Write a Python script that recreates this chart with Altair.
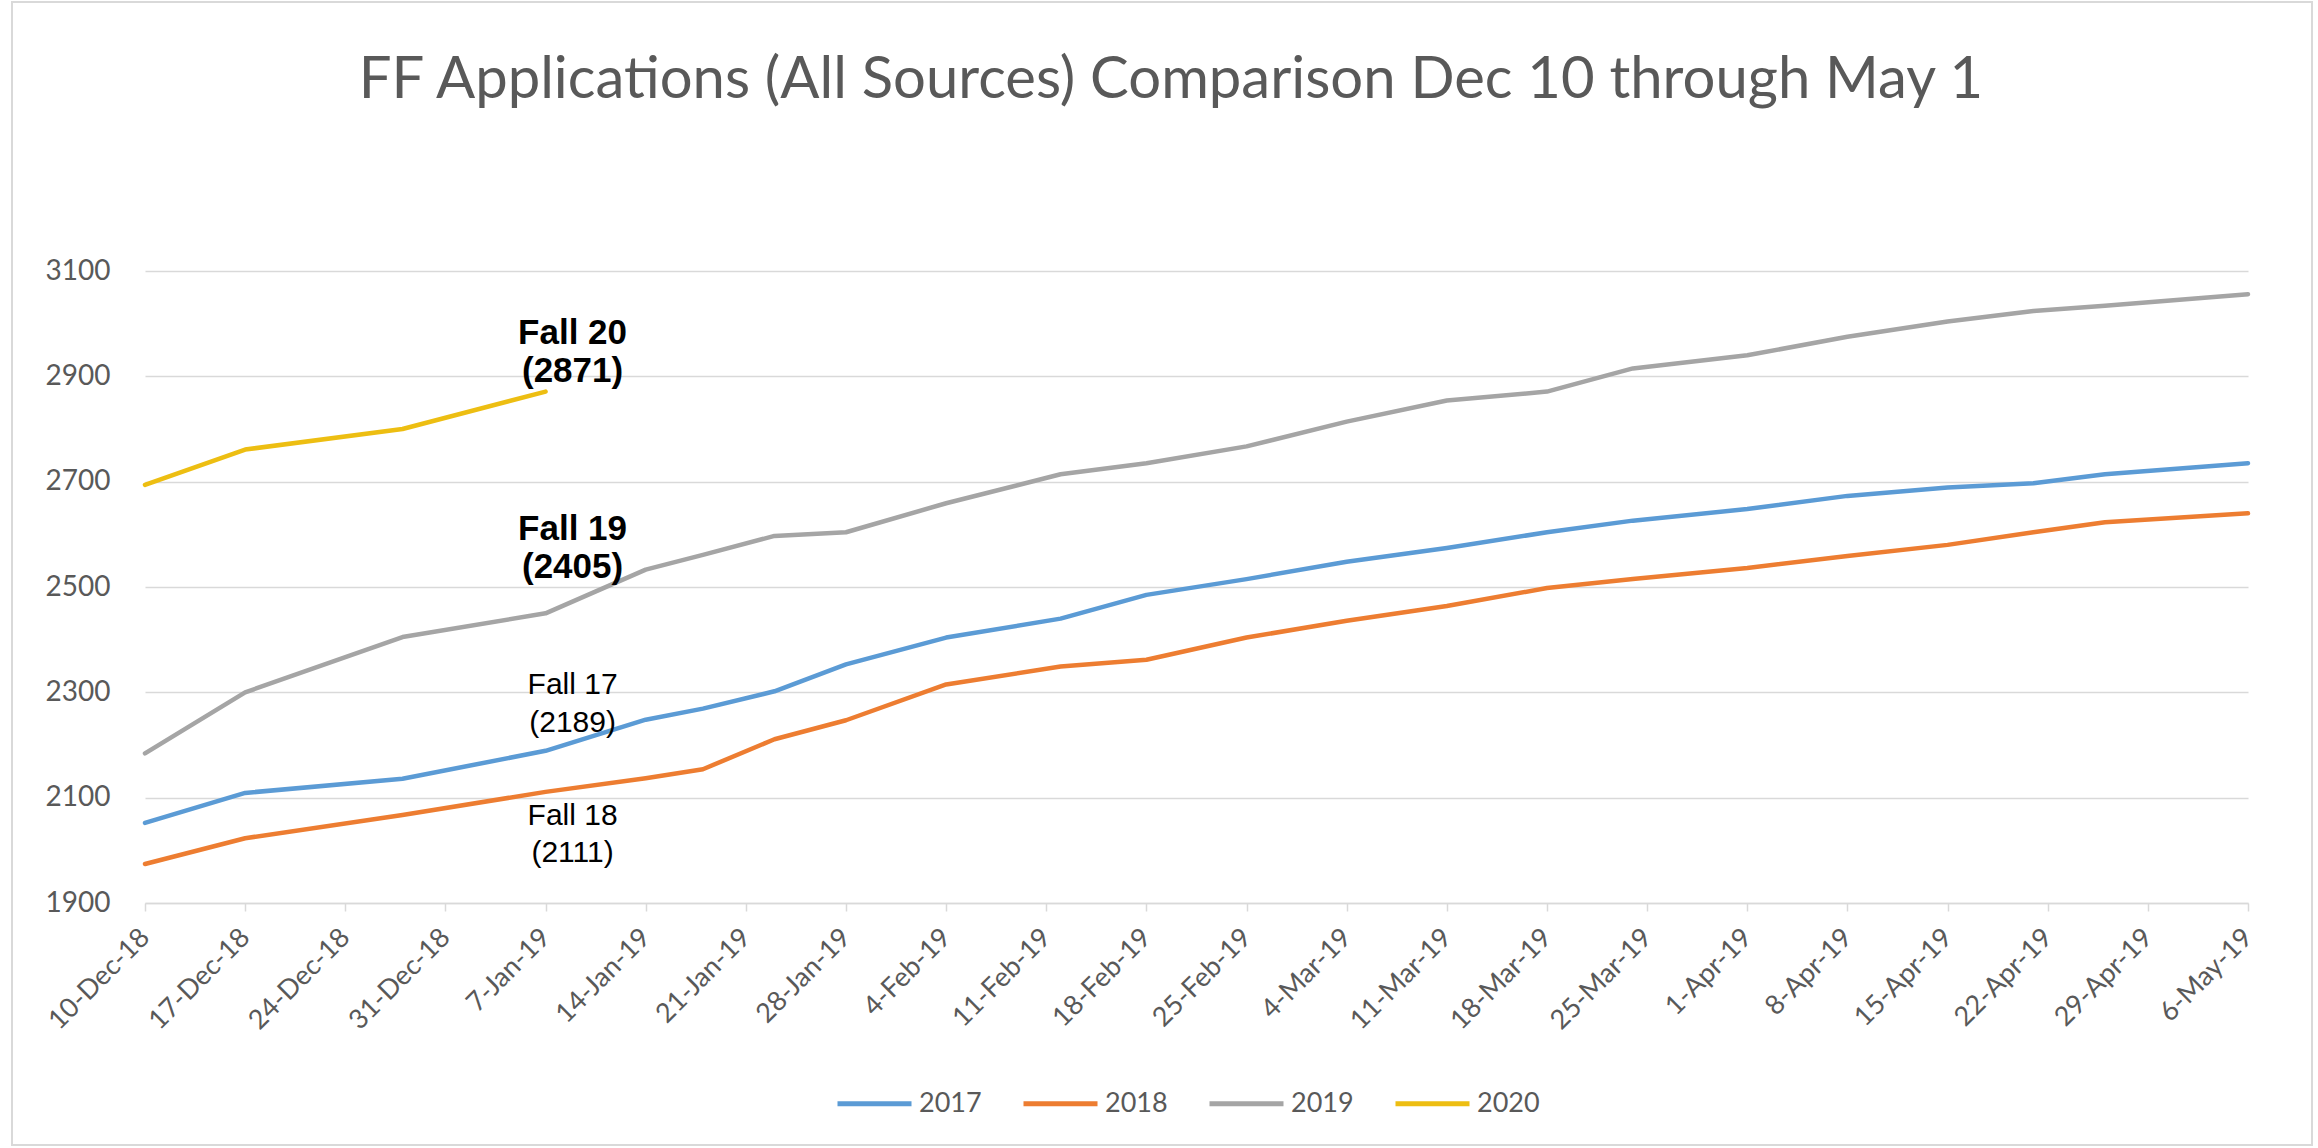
import altair as alt
import pandas as pd

# Weekly axis ticks (Monday of each week)
TICK_DATES = [
    "2018-12-10", "2018-12-17", "2018-12-24", "2018-12-31", "2019-01-07",
    "2019-01-14", "2019-01-21", "2019-01-28", "2019-02-04", "2019-02-11",
    "2019-02-18", "2019-02-25", "2019-03-04", "2019-03-11", "2019-03-18",
    "2019-03-25", "2019-04-01", "2019-04-08", "2019-04-15", "2019-04-22",
    "2019-04-29", "2019-05-06",
]

# Dates on which application counts were recorded
DATES = [
    "2018-12-10", "2018-12-17", "2018-12-28", "2019-01-07", "2019-01-14",
    "2019-01-18", "2019-01-23", "2019-01-28", "2019-02-04", "2019-02-12",
    "2019-02-18", "2019-02-25", "2019-03-04", "2019-03-11", "2019-03-18",
    "2019-03-24", "2019-04-01", "2019-04-08", "2019-04-15", "2019-04-21",
    "2019-04-26", "2019-05-06",
]

APPS_2017 = [2052, 2109, 2136, 2189, 2248, 2269, 2302, 2353, 2404, 2440, 2485,
             2515, 2548, 2574, 2604, 2626, 2648, 2673, 2689, 2697, 2714, 2735]
APPS_2018 = [1974, 2023, 2067, 2111, 2137, 2154, 2211, 2247, 2315, 2349, 2362,
             2404, 2436, 2464, 2498, 2515, 2536, 2559, 2580, 2604, 2623, 2640]
APPS_2019 = [2184, 2300, 2405, 2450, 2533, 2561, 2597, 2604, 2659, 2714, 2735,
             2767, 2814, 2854, 2871, 2915, 2940, 2975, 3004, 3024, 3034, 3056]
APPS_2020 = [2694, 2761, 2800, 2871]

SERIES = ["2017", "2018", "2019", "2020"]
COLORS = ["#5B9BD5", "#ED7D31", "#A5A5A5", "#EDBE12"]
Y_TICKS = [1900, 2100, 2300, 2500, 2700, 2900, 3100]

# Season call-outs: name and the count quoted in the label
NOTE_NAMES = ["Fall 20", "Fall 19", "Fall 17", "Fall 18"]
NOTE_COUNTS = [2871, 2405, 2189, 2111]
NOTE_BOLD = [True, True, False, False]
# where each two-line call-out sits (axis units for the two baselines)
NOTE_LINE1_AT = [2961, 2589, 2296, 2048]
NOTE_LINE2_AT = [2889, 2518, 2224, 1977]
NOTE_DATE = "2019-01-07"

TITLE = "FF Applications (All Sources) Comparison Dec 10 through May 1"

GRID = "#d9d9d9"
TEXT = "#595959"
FONT = "Lato"

rows = []
for name, vals in zip(SERIES, [APPS_2017, APPS_2018, APPS_2019, APPS_2020]):
    for d, v in zip(DATES, vals):
        rows.append({"date": d, "season": name, "apps": v})
lines_df = pd.DataFrame(rows)

note_rows = []
for name, cnt, bold, y1, y2 in zip(NOTE_NAMES, NOTE_COUNTS, NOTE_BOLD,
                                   NOTE_LINE1_AT, NOTE_LINE2_AT):
    note_rows.append({"date": NOTE_DATE, "pos": y1, "label": name, "bold": bold})
    note_rows.append({"date": NOTE_DATE, "pos": y2, "label": f"({cnt})", "bold": bold})
notes_df = pd.DataFrame(note_rows)


def dt(s):
    y, m, d = (int(p) for p in s.split("-"))
    return alt.DateTime(year=y, month=m, date=d, utc=True)


PLOT_W, PLOT_H = 2103, 632
PAD = {"left": 145, "top": 271, "right": 70, "bottom": 245}

x_scale = alt.Scale(type="utc", domain=[dt(TICK_DATES[0]), dt(TICK_DATES[-1])])
y_scale = alt.Scale(domain=[1900, 3100], nice=False, zero=False)

x_enc = alt.X(
    "date:T",
    scale=x_scale,
    axis=alt.Axis(
        title=None,
        values=[dt(s) for s in TICK_DATES],
        labelExpr="utcFormat(datum.value, '%-d-%b-%y')",
        labelAngle=-45,
        labelAlign="right",
        labelBaseline="middle",
        labelFont=FONT,
        labelFontSize=27,
        labelColor=TEXT,
        labelPadding=22,
        labelOverlap=False,
        labelFlush=False,
        labelBound=False,
        grid=False,
        domainColor=GRID,
        domainWidth=1.5,
        tickColor=GRID,
        tickSize=8,
        tickWidth=1.5,
    ),
)

y_enc = alt.Y(
    "apps:Q",
    scale=y_scale,
    axis=alt.Axis(
        title=None,
        values=Y_TICKS,
        format="d",
        labelFont=FONT,
        labelFontSize=28,
        labelColor=TEXT,
        labelPadding=35,
        ticks=False,
        domain=False,
        grid=True,
        gridColor=GRID,
        gridWidth=1.5,
    ),
)

lines = alt.Chart(lines_df).mark_line(
    strokeWidth=4.5, strokeJoin="round", strokeCap="round"
).encode(
    x=x_enc,
    y=y_enc,
    color=alt.Color(
        "season:N",
        scale=alt.Scale(domain=SERIES, range=COLORS),
        legend=alt.Legend(
            orient="none",
            legendX=690,
            legendY=793,
            direction="horizontal",
            title=None,
            symbolType="stroke",
            symbolSize=5476,
            symbolStrokeWidth=5,
            labelFont=FONT,
            labelFontSize=27,
            labelColor=TEXT,
            labelOffset=5,
            columnPadding=31,
            padding=0,
        ),
    ),
    order=alt.Order("date:T"),
)

note_x = alt.X("date:T", scale=x_scale)
note_y = alt.Y("pos:Q", scale=y_scale)

notes_bold = alt.Chart(notes_df).transform_filter("datum.bold").mark_text(
    font="Liberation Sans", fontWeight="bold", fontSize=35, color="black",
    align="center", baseline="alphabetic", dx=27,
).encode(x=note_x, y=note_y, text="label:N")

notes_plain = alt.Chart(notes_df).transform_filter("!datum.bold").mark_text(
    font="Liberation Sans", fontSize=30, color="black",
    align="center", baseline="alphabetic", dx=27,
).encode(x=note_x, y=note_y, text="label:N")

# chart heading, placed above the plot area
heading = alt.Chart(alt.Data(values=[{"t": TITLE}])).mark_text(
    font=FONT, fontSize=58, color=TEXT, align="center", baseline="alphabetic",
).encode(x=alt.value(1026), y=alt.value(-173), text="t:N")

frame = alt.Chart(alt.Data(values=[{}])).mark_rect(
    filled=False, stroke=GRID, strokeWidth=2
).encode(
    x=alt.value(-133), x2=alt.value(2167),
    y=alt.value(-269), y2=alt.value(874),
)

chart = alt.layer(frame, lines, notes_bold, notes_plain, heading).properties(
    width=PLOT_W,
    height=PLOT_H,
    padding=PAD,
    autosize=alt.AutoSizeParams(type="none"),
    background="white",
).configure_view(stroke=None)

chart.save("out.html", embed_options={"renderer": "svg", "actions": False})
